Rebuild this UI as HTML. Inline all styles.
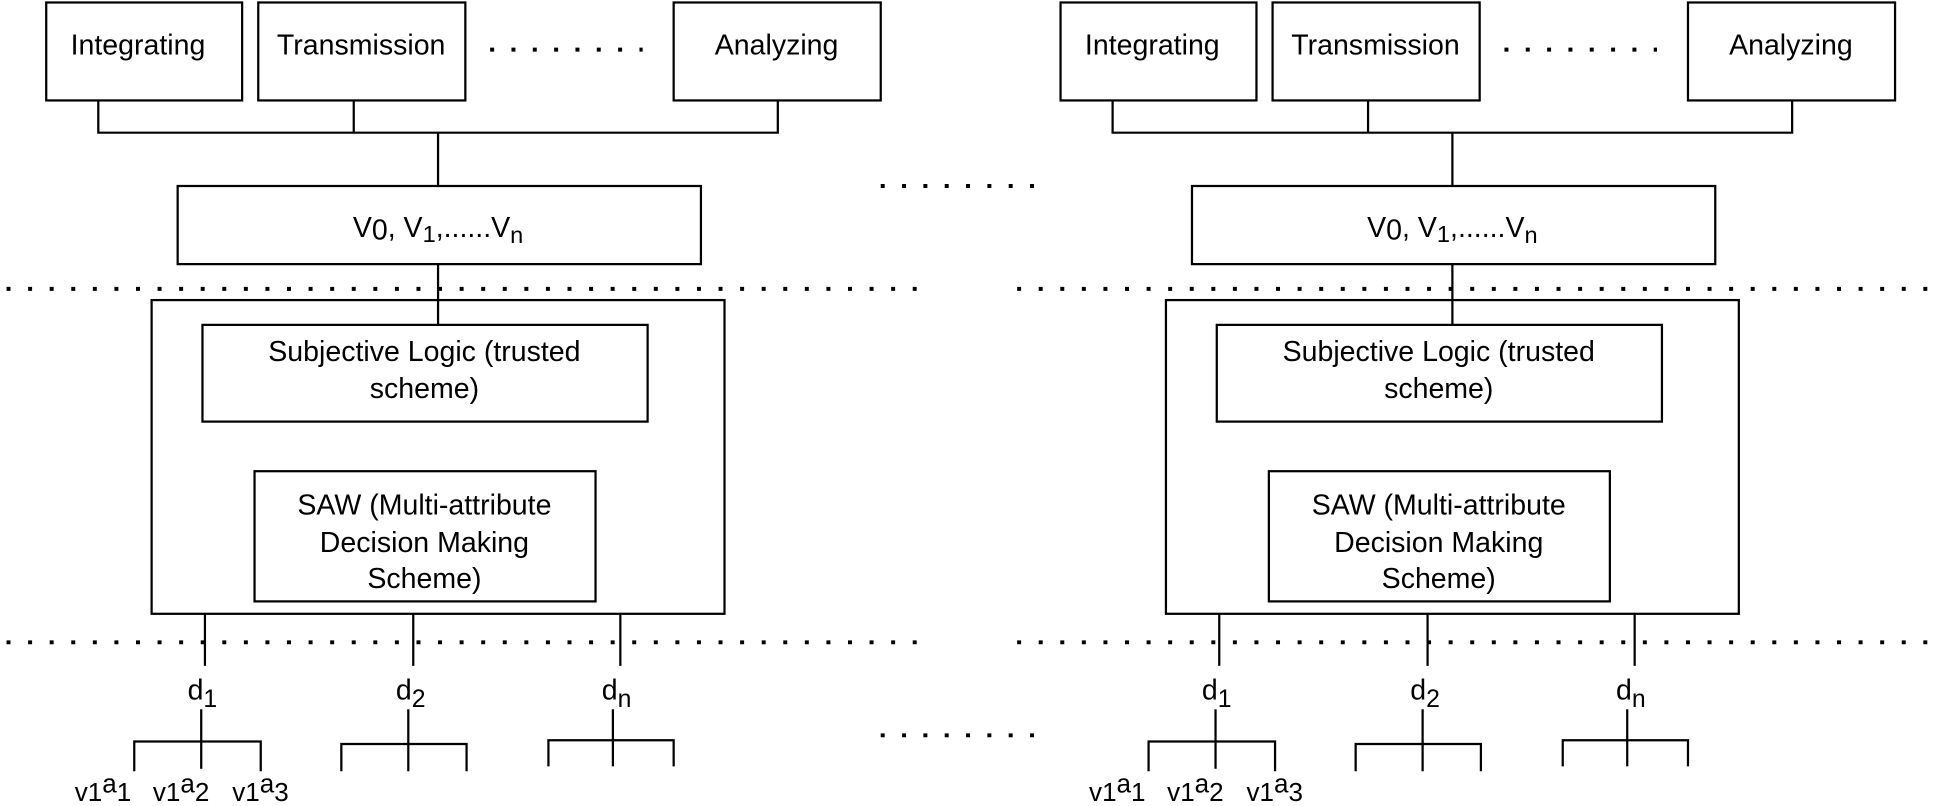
<!DOCTYPE html>
<html><head><meta charset="utf-8"><style>
html,body{margin:0;padding:0;background:#fff}
svg{display:block}
text{font-family:"Liberation Sans",Arial,sans-serif;fill:#000}
</style></head><body>
<svg width="1945" height="806" viewBox="0 0 1568 650" xmlns="http://www.w3.org/2000/svg">
<defs>
<g id="side" fill="none" stroke="#000" stroke-width="1.8">
  <rect x="37" y="2" width="158" height="79"/>
  <rect x="208" y="2" width="167" height="79"/>
  <rect x="543" y="2" width="167" height="79"/>
  <line x1="395" y1="40" x2="518" y2="40" stroke-width="3.2" stroke-dasharray="3.2 14"/>
  <polyline points="79,81 79,107 627,107 627,81"/>
  <line x1="285" y1="81" x2="285" y2="107"/>
  <line x1="353" y1="107" x2="353" y2="150"/>
  <rect x="143" y="150" width="422" height="63"/>
  <line x1="353" y1="213" x2="353" y2="262"/>
  <rect x="122" y="242" width="462" height="253"/>
  <rect x="163" y="262" width="359" height="78"/>
  <rect x="205" y="380" width="275" height="105"/>
  <line x1="165" y1="495" x2="165" y2="537"/>
  <line x1="333" y1="495" x2="333" y2="537"/>
  <line x1="500" y1="495" x2="500" y2="537"/>
  <line x1="162" y1="572" x2="162" y2="620"/>
  <polyline points="108,622 108,598 210,598 210,622"/>
  <line x1="329" y1="572" x2="329" y2="622"/>
  <polyline points="275,622 275,600 376,600 376,622"/>
  <line x1="494" y1="572" x2="494" y2="618"/>
  <polyline points="442,618 442,597 543,597 543,618"/>
</g>
<g id="txt">
  <text x="111" y="44" font-size="23" text-anchor="middle">Integrating</text>
  <text x="291" y="44" font-size="23" text-anchor="middle">Transmission</text>
  <text x="626" y="44" font-size="23" text-anchor="middle">Analyzing</text>
  <text x="353" y="191" font-size="23" text-anchor="middle">V<tspan dy="2">0</tspan><tspan dy="-2">, V</tspan><tspan dy="4" font-size="19">1</tspan><tspan dy="-4">,......V</tspan><tspan dy="5" font-size="19">n</tspan></text>
  <text x="342" y="291" font-size="23" text-anchor="middle">Subjective Logic (trusted</text>
  <text x="342" y="321" font-size="23" text-anchor="middle">scheme)</text>
  <text x="342" y="415" font-size="23" text-anchor="middle">SAW (Multi-attribute</text>
  <text x="342" y="445" font-size="23" text-anchor="middle">Decision Making</text>
  <text x="342" y="474" font-size="23" text-anchor="middle">Scheme)</text>
  <text x="151" y="564" font-size="23">d<tspan dy="6" font-size="20">1</tspan></text>
  <text x="319" y="564" font-size="23">d<tspan dy="6" font-size="20">2</tspan></text>
  <text x="485" y="564" font-size="23">d<tspan dy="6" font-size="20">n</tspan></text>
  <text x="60" y="646" font-size="21">v1<tspan dy="-7">a</tspan><tspan dy="7">1</tspan></text>
  <text x="123" y="646" font-size="21">v1<tspan dy="-7">a</tspan><tspan dy="7">2</tspan></text>
  <text x="187" y="646" font-size="21">v1<tspan dy="-7">a</tspan><tspan dy="7">3</tspan></text>
</g>
</defs>
<use href="#side"/>
<use href="#txt"/>
<use href="#side" transform="translate(818,0)"/>
<use href="#txt" transform="translate(818,0)"/>
<g stroke="#000" stroke-width="3.2" stroke-dasharray="3.2 14.2">
  <line x1="5" y1="233" x2="750" y2="233"/>
  <line x1="5" y1="518" x2="750" y2="518"/>
  <line x1="820" y1="233" x2="1568" y2="233"/>
  <line x1="820" y1="518" x2="1568" y2="518"/>
  <line x1="710" y1="150" x2="840" y2="150" stroke-dasharray="3.2 14"/>
  <line x1="710" y1="593" x2="840" y2="593" stroke-dasharray="3.2 14"/>
</g>
</svg>
</body></html>
